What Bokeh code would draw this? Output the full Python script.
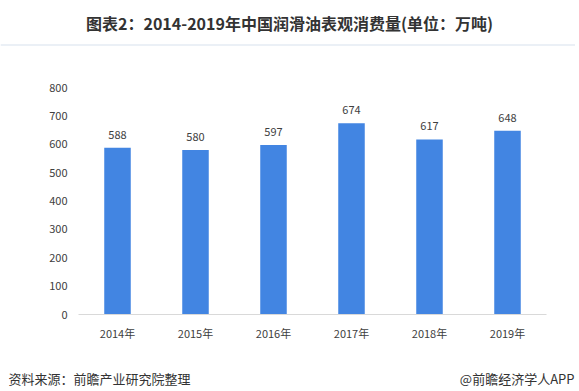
from bokeh.plotting import figure
from bokeh.layouts import column
from bokeh.models import ColumnDataSource, LabelSet, Range1d, FactorRange
from bokeh.core.properties import value
from bokeh.embed import file_html
from bokeh.resources import INLINE

# ---- data ----
years = ["2014年", "2015年", "2016年", "2017年", "2018年", "2019年"]
consumption = [588, 580, 597, 674, 617, 648]
y_ticks = [0, 100, 200, 300, 400, 500, 600, 700, 800]
title_text = "图表2：2014-2019年中国润滑油表观消费量(单位：万吨)"
source_text = "资料来源：前瞻产业研究院整理"
brand_text = "@前瞻经济学人APP"

FONT = "Noto Sans CJK SC"
W = 575
TOP_H, MAIN_H, FOOT_H = 46, 309, 32


def bare(fig):
    fig.outline_line_color = None
    fig.grid.grid_line_color = None
    fig.min_border = 0
    fig.frame_align = False
    return fig


# ---- title strip ----
pt = bare(figure(width=W, height=TOP_H, x_range=Range1d(0, W),
                 y_range=Range1d(TOP_H, 0), output_backend="svg",
                 toolbar_location=None, x_axis_location=None,
                 y_axis_location=None))
pt.text(x=[289], y=[22], text=[title_text], text_align="center",
        text_baseline="middle", text_font=value(FONT),
        text_font_size="16px", text_font_style="bold", text_color="#333333")
pt.segment(x0=[0], y0=[44.5], x1=[W], y1=[44.5], line_color="#EBF0F6",
           line_width=2)

# ---- main chart ----
src = ColumnDataSource(dict(year=years, value=consumption,
                            label=[str(v) for v in consumption]))

p = figure(x_range=FactorRange(*years, range_padding=0),
           y_range=Range1d(0, 800),
           width=W, height=MAIN_H,
           output_backend="svg", toolbar_location=None,
           min_border_left=78, min_border_right=29,
           min_border_top=41, min_border_bottom=41)
p.frame_align = False

p.vbar(x="year", top="value", width=0.34, source=src,
       fill_color="#4285E2", line_color=None)

p.add_layout(LabelSet(x="year", y="value", text="label", source=src,
                      y_offset=9, text_align="center", text_baseline="bottom",
                      text_font=value(FONT), text_font_size="11px",
                      text_color="#404040"))

p.yaxis.ticker = y_ticks
p.yaxis.axis_line_color = None
p.yaxis.major_tick_line_color = None
p.yaxis.minor_tick_line_color = None
p.yaxis.major_tick_out = 0
p.yaxis.major_label_standoff = 11
p.yaxis.major_label_text_font = FONT
p.yaxis.major_label_text_font_size = "11px"
p.yaxis.major_label_text_color = "#404040"

p.xaxis.axis_line_color = "#D9D9D9"
p.xaxis.axis_line_width = 1
p.xaxis.major_tick_line_color = None
p.xaxis.minor_tick_line_color = None
p.xaxis.major_tick_out = 0
p.xaxis.major_label_standoff = 10
p.xaxis.major_label_text_font = FONT
p.xaxis.major_label_text_font_size = "11px"
p.xaxis.major_label_text_color = "#404040"

p.xgrid.grid_line_color = None
p.ygrid.grid_line_color = None
p.outline_line_color = None

# ---- footer strip ----
pf = bare(figure(width=W, height=FOOT_H, x_range=Range1d(0, W),
                 y_range=Range1d(TOP_H + MAIN_H + FOOT_H, TOP_H + MAIN_H),
                 output_backend="svg", toolbar_location=None,
                 x_axis_location=None, y_axis_location=None))
pf.text(x=[8], y=[378], text=[source_text], text_align="left",
        text_baseline="middle", text_font=value(FONT),
        text_font_size="13px", text_color="#333333")
pf.text(x=[W - 1], y=[378], text=[brand_text], text_align="right",
        text_baseline="middle", text_font=value(FONT),
        text_font_size="13px", text_color="#333333")

layout = column(pt, p, pf, spacing=0)
open("out.html", "w").write(file_html(layout, INLINE))
